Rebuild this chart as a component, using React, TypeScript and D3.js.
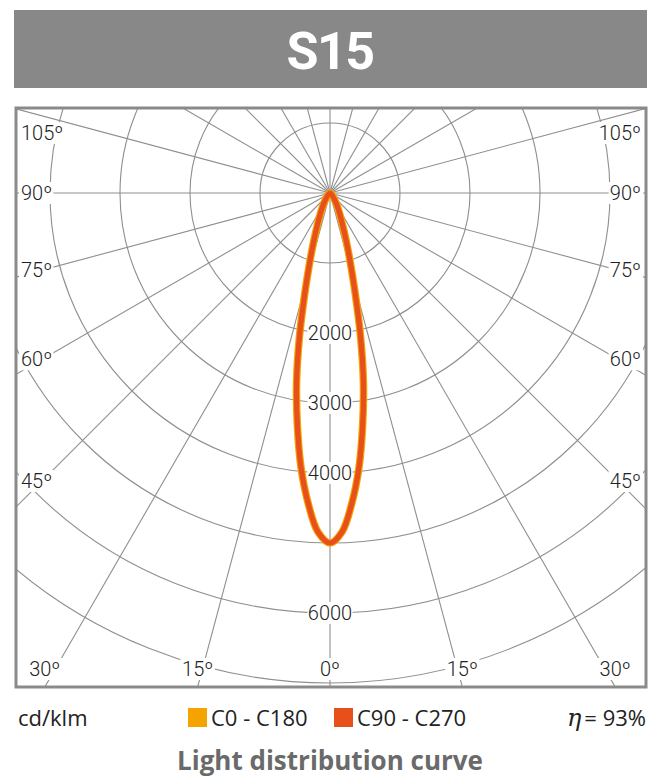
import React from "react";
import * as d3 from "d3";

// ---- data ----
const titleText = "S15";
const gammaAngles = [0, 2, 4, 6, 8, 10, 12, 14, 16, 18, 20, 25, 30, 35, 40, 50, 60, 70, 80, 90];
const c0c180 = [5000, 4850, 4450, 3950, 3350, 2750, 2100, 1500, 1080, 800, 600, 330, 190, 110, 65, 25, 10, 5, 2, 0];
const c90c270 = [5000, 4850, 4450, 3950, 3350, 2750, 2100, 1500, 1080, 800, 600, 330, 190, 110, 65, 25, 10, 5, 2, 0];
const ringValues = [1000, 2000, 3000, 4000, 5000, 6000, 7000];
const ringLabels = [2000, 3000, 4000, 6000];
const sideAngles = [105, 90, 75, 60, 45];
const bottomAngles = [-30, -15, 0, 15, 30];
const legendItems = ["C0 - C180", "C90 - C270"];
const unitText = "cd/klm";
const effText = "= 93%";
const footerText = "Light distribution curve";

const W = 661;
const H = 778;
const frame = { x0: 16, y0: 108, x1: 646, y1: 687 };
const cx = 330;
const cy = 193;
const colors = { c0: "#F5A300", c90: "#E8501B", grid: "#8f8f8f", frame: "#8a8a8a", text: "#222" };

export default function App() {
  const r = d3.scaleLinear().domain([0, 7000]).range([0, 490]);
  const toRad = (deg: number) => (deg * Math.PI) / 180;

  const buildPts = (vals: number[]) => {
    const right = gammaAngles.map((g, i) => [g, vals[i]] as [number, number]);
    const left = gammaAngles
      .slice(1)
      .map((g, i) => [-g, vals[i + 1]] as [number, number])
      .reverse();
    return [...left, ...right];
  };

  const radial = d3
    .lineRadial<[number, number]>()
    .angle((d) => Math.PI - toRad(d[0]))
    .radius((d) => r(d[1]))
    .curve(d3.curveCatmullRom.alpha(0.5));

  const spokes = d3.range(0, 360, 15);
  const labelFont = "Roboto, 'DejaVu Sans', sans-serif";
  const lblW = (s: string) => s.length * 10.8 + 2;

  // side labels
  const sideLabels: { x: number; y: number; t: string; anchor: string }[] = [];
  sideAngles.forEach((a) => {
    const t = `${a}º`;
    const lc = 42;
    let y = cy + (cx - lc) / Math.tan(toRad(a));
    if (Math.abs(a - 90) < 1e-6) y = cy;
    y = Math.max(frame.y0 + 25, y);
    sideLabels.push({ x: frame.x0 + 5, y, t, anchor: "start" });
    sideLabels.push({ x: frame.x1 - 5, y, t, anchor: "end" });
  });
  const bottomY = 669;
  const bottomLabels = bottomAngles.map((a) => {
    const t = `${Math.abs(a)}º`;
    let x = cx + (frame.y1 - cy) * Math.tan(toRad(a));
    x = Math.max(frame.x0 + 24, Math.min(frame.x1 - 24, x));
    return { x, y: bottomY, t };
  });

  return (
    <svg
      width={W}
      height={H}
      style={{ position: "absolute", left: 0, top: 0, background: "#fff" }}
      xmlns="http://www.w3.org/2000/svg"
    >
      <defs>
        <clipPath id="frameClip">
          <rect x={frame.x0} y={frame.y0} width={frame.x1 - frame.x0} height={frame.y1 - frame.y0} />
        </clipPath>
      </defs>

      {/* title bar */}
      <rect x={14} y={10} width={633} height={78} fill="#888888" />
      <text
        x={cx}
        y={69}
        textAnchor="middle"
        fill="#fff"
        fontFamily="Roboto, sans-serif"
        fontWeight={700}
        fontSize={52}
        letterSpacing={-1.5}
      >
        {titleText}
      </text>

      {/* grid */}
      <g clipPath="url(#frameClip)">
        {ringValues.map((v) => (
          <circle key={v} cx={cx} cy={cy} r={r(v)} fill="none" stroke={colors.grid} strokeWidth={1.1} />
        ))}
        {spokes.map((a) => (
          <line
            key={a}
            x1={cx}
            y1={cy}
            x2={cx + 800 * Math.sin(toRad(a))}
            y2={cy + 800 * Math.cos(toRad(a))}
            stroke={colors.grid}
            strokeWidth={1.1}
          />
        ))}

        {/* labels with white backgrounds */}
        {ringLabels.map((v) => {
          const t = String(v);
          const w = lblW(t);
          return (
            <g key={v}>
              <rect x={cx - w / 2} y={cy + r(v) - 11} width={w} height={22} fill="#fff" />
              <text
                x={cx}
                y={cy + r(v)}
                textAnchor="middle"
                dominantBaseline="central"
                fontFamily={labelFont}
                fontWeight={300}
                fontSize={20}
                fill={colors.text}
              >
                {t}
              </text>
            </g>
          );
        })}
        {sideLabels.map((l, i) => {
          const w = lblW(l.t);
          const rx = l.anchor === "start" ? l.x - 2 : l.x - w + 2;
          return (
            <g key={"s" + i}>
              <rect x={rx} y={l.y - 11} width={w} height={22} fill="#fff" />
              <text
                x={l.x}
                y={l.y}
                textAnchor={l.anchor as any}
                dominantBaseline="central"
                fontFamily={labelFont}
                fontWeight={300}
                fontSize={20}
                fill={colors.text}
              >
                {l.t}
              </text>
            </g>
          );
        })}
        {bottomLabels.map((l, i) => {
          const w = lblW(l.t);
          return (
            <g key={"b" + i}>
              <rect x={l.x - w / 2} y={l.y - 11} width={w} height={22} fill="#fff" />
              <text
                x={l.x}
                y={l.y}
                textAnchor="middle"
                dominantBaseline="central"
                fontFamily={labelFont}
                fontWeight={300}
                fontSize={20}
                fill={colors.text}
              >
                {l.t}
              </text>
            </g>
          );
        })}

        {/* curves */}
        <path
          d={radial(buildPts(c0c180)) || ""}
          transform={`translate(${cx},${cy})`}
          fill="none"
          stroke={colors.c0}
          strokeWidth={7.5}
          strokeLinejoin="round"
        />
        <path
          d={radial(buildPts(c90c270)) || ""}
          transform={`translate(${cx},${cy})`}
          fill="none"
          stroke={colors.c90}
          strokeWidth={5.2}
          strokeLinejoin="round"
        />
      </g>

      {/* frame */}
      <rect
        x={frame.x0}
        y={frame.y0}
        width={frame.x1 - frame.x0}
        height={frame.y1 - frame.y0}
        fill="none"
        stroke={colors.frame}
        strokeWidth={3}
      />

      {/* legend row */}
      <text x={18} y={726} fontFamily="'Open Sans', sans-serif" fontSize={22} fill={colors.text}>
        {unitText}
      </text>
      <rect x={188} y={708} width={19} height={19} fill={colors.c0} />
      <text x={211} y={726} fontFamily="'Open Sans', sans-serif" fontSize={22} fill={colors.text}>
        {legendItems[0]}
      </text>
      <rect x={334} y={708} width={19} height={19} fill={colors.c90} />
      <text x={357} y={726} fontFamily="'Open Sans', sans-serif" fontSize={22} fill={colors.text}>
        {legendItems[1]}
      </text>
      <text x={646} y={726} textAnchor="end" fontFamily="'Open Sans', sans-serif" fontSize={22} fill={colors.text}>
        <tspan fontFamily="'DejaVu Serif', serif" fontStyle="italic" fontSize={24}>
          η
        </tspan>
        <tspan dx={3}>{effText}</tspan>
      </text>

      {/* footer */}
      <text
        x={cx}
        y={770}
        textAnchor="middle"
        fontFamily="'Open Sans', sans-serif"
        fontWeight={700}
        fontSize={26}
        fill="#6a6a6a"
      >
        {footerText}
      </text>
    </svg>
  );
}
